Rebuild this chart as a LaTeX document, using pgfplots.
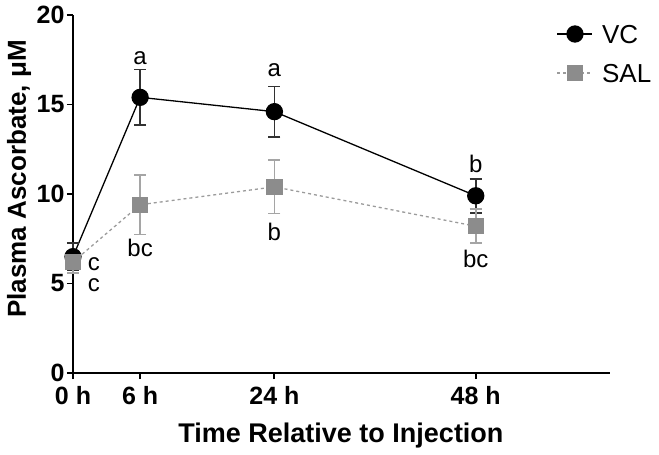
\documentclass[border=0pt]{standalone}
\usepackage{fontspec}
\setmainfont{Liberation Sans}
\usepackage{pgfplots}
\pgfplotsset{compat=1.18}
\definecolor{salfill}{RGB}{140,140,140}
\definecolor{salline}{RGB}{155,155,155}
\definecolor{salerr}{RGB}{165,165,165}
\definecolor{vcerr}{RGB}{50,50,50}
\begin{document}
\begin{tikzpicture}
\begin{axis}[
  name=ax,
  scale only axis, width=537pt, height=358pt,
  xmin=0, xmax=64, ymin=0, ymax=20,
  axis lines*=left,
  axis line style={line width=2pt},
  xtick={0,8,24,48}, xticklabels={0 h,6 h,24 h,48 h},
  ytick={0,5,10,15,20},
  xtick pos=bottom, ytick pos=left,
  tick align=outside, major tick length=6pt,
  tick style={line width=1.8pt, black},
  /pgf/number format/assume math mode=true,
  tick label style={font=\fontsize{25}{27}\selectfont\bfseries},
  yticklabel style={xshift=1pt},
  xticklabel style={yshift=-4pt},
  xlabel={Time Relative to Injection},
  ylabel={Plasma Ascorbate, μM},
  xlabel style={font=\fontsize{27}{30}\selectfont\bfseries, at={(rel axis cs:0.499,0)}, anchor=base, yshift=-70pt},
  ylabel style={font=\fontsize{26}{29}\selectfont\bfseries, at={(rel axis cs:0,0.542)}, anchor=base, yshift=47pt},
  clip=false,
  legend style={at={(rel axis cs:0.901,1)}, yshift=-9.7pt, anchor=north west, draw=none, fill=none,
    inner sep=0pt, outer sep=0pt,
    font=\fontsize{26}{29}\selectfont, row sep=20.4pt, column sep=9pt,
    nodes={inner sep=0pt, text height=18.6pt, text depth=0pt}},
  legend cell align=left,
  legend image code/.code={\draw[mark repeat=2,mark phase=2] plot coordinates {(0pt,0pt)(17.5pt,0pt)(35pt,0pt)};},
]
\addplot[black, line width=1.3pt, mark=*, mark size=8pt, mark options={solid, fill=black},
  error bars/.cd, y dir=both, y explicit,
  error bar style={line width=1.6pt, vcerr},
  error mark options={rotate=90, mark size=6pt, line width=1.6pt, vcerr}]
  coordinates {
  (0,6.5) +- (0,0.75)
  (8,15.4) +- (0,1.55)
  (24,14.6) +- (0,1.4)
  (48,9.9) +- (0,0.95)
  };
\addlegendentry{VC}
\addplot[salline, dashed, line width=1.3pt, mark=square*, mark size=7.5pt,
  mark options={solid, fill=salfill, draw=salfill},
  error bars/.cd, y dir=both, y explicit,
  error bar style={line width=1.6pt, salerr, solid},
  error mark options={rotate=90, mark size=6pt, line width=1.6pt, salerr}]
  coordinates {
  (0,6.2) +- (0,0.6)
  (8,9.4) +- (0,1.67)
  (24,10.4) +- (0,1.5)
  (48,8.2) +- (0,0.95)
  };
\addlegendentry{SAL}
\begin{scope}[every node/.style={font=\fontsize{24}{26}\selectfont, inner sep=0pt}]
\node at (axis cs:8,17.6) {a};
\node at (axis cs:24,16.9) {a};
\node at (axis cs:48,11.7) {b};
\node at (axis cs:8,7.0) {bc};
\node at (axis cs:24,7.9) {b};
\node at (axis cs:48,6.4) {bc};
\node at (axis cs:2.5,6.1) {c};
\node at (axis cs:2.5,4.9) {c};
\end{scope}
\end{axis}
\pgfresetboundingbox
\path[use as bounding box] ([xshift=-73pt,yshift=-82pt]ax.south west) rectangle ++(659pt,455pt);
\end{tikzpicture}
\end{document}
